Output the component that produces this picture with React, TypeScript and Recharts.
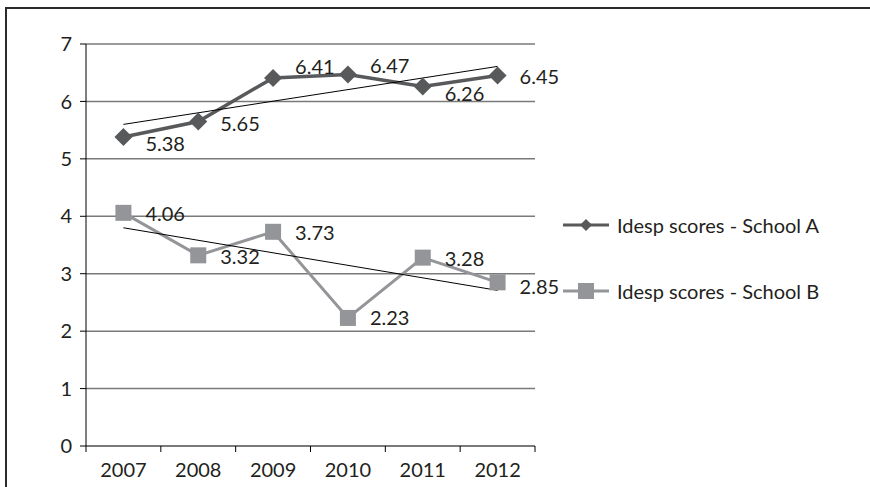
import { LineChart, Line, XAxis, YAxis, CartesianGrid, LabelList } from 'recharts';

const years = ['2007', '2008', '2009', '2010', '2011', '2012'];
const schoolA = [5.38, 5.65, 6.41, 6.47, 6.26, 6.45];
const schoolB = [4.06, 3.32, 3.73, 2.23, 3.28, 2.85];
// linear trendlines, end points
const trendA = [5.6, null, null, null, null, 6.61];
const trendB = [3.8, null, null, null, null, 2.71];
const yTicks = [0, 1, 2, 3, 4, 5, 6, 7];
const seriesNames = ['Idesp scores - School A', 'Idesp scores - School B'];

const data = years.map((year, i) => ({
  year,
  a: schoolA[i],
  b: schoolB[i],
  ta: trendA[i],
  tb: trendB[i],
}));

const W = 870;
const H = 487;
const MARGIN = { top: 44, right: 335, bottom: 11, left: 46 };
const Y_AXIS_W = 40;
const PLOT_W = W - MARGIN.left - Y_AXIS_W - MARGIN.right;
const BAND = PLOT_W / years.length;
const FONT = 'Lato, "Open Sans", sans-serif';
const TEXT = '#231f20';
const COLOR_A = '#58595b';
const COLOR_B = '#939598';

// label nudges so they sit like the original
const offsetA = [7, 2, -11, -8, 8, 1];
const offsetB = [1, 2, 1, 0, 1, 5];

const Diamond = (props: any) => {
  const { cx, cy, index } = props;
  if (cx == null || cy == null) return <g key={`d-${index}`} />;
  const r = 9;
  return (
    <path
      key={`d-${index}`}
      d={`M${cx},${cy - r}L${cx + r},${cy}L${cx},${cy + r}L${cx - r},${cy}Z`}
      fill={COLOR_A}
    />
  );
};

const Square = (props: any) => {
  const { cx, cy, index } = props;
  if (cx == null || cy == null) return <g key={`s-${index}`} />;
  const s = 8;
  return <rect key={`s-${index}`} x={cx - s} y={cy - s} width={s * 2} height={s * 2} fill={COLOR_B} />;
};

const makeLabel = (offsets: number[]) => (props: any) => {
  const { x, y, value, index } = props;
  return (
    <text
      x={x + 22}
      y={y + offsets[index]}
      dy="0.35em"
      textAnchor="start"
      fontSize={20}
      fontFamily={FONT}
      fill={TEXT}
    >
      {Number(value).toFixed(2)}
    </text>
  );
};

// ticks sit between categories, like the original
const XTick = (props: any) => {
  const { x, y, payload, index } = props;
  const axisY = y - 8; // recharts hands us y past tickSize + tickMargin
  return (
    <g>
      <line x1={x - BAND / 2} x2={x - BAND / 2} y1={axisY} y2={axisY + 6} stroke="#000" strokeWidth={1} />
      {index === years.length - 1 && (
        <line x1={x + BAND / 2} x2={x + BAND / 2} y1={axisY} y2={axisY + 6} stroke="#000" strokeWidth={1} />
      )}
      <text x={x} y={axisY + 24} dy="0.35em" textAnchor="middle" fontSize={20} fontFamily={FONT} fill={TEXT}>
        {payload.value}
      </text>
    </g>
  );
};

function ChartLegend() {
  return (
    <div style={{ position: 'absolute', left: 562, top: 210, width: 300 }}>
      {seriesNames.map((name, i) => (
        <div
          key={name}
          style={{ display: 'flex', alignItems: 'center', height: 30, marginBottom: i === 0 ? 36 : 0 }}
        >
          <svg width={48} height={20} style={{ display: 'block' }}>
            <line x1={1} x2={47} y1={10} y2={10} stroke={i === 0 ? COLOR_A : COLOR_B} strokeWidth={3} />
            {i === 0 ? (
              <path d="M24,4L30,10L24,16L18,10Z" fill={COLOR_A} />
            ) : (
              <rect x={16} y={2} width={16} height={16} fill={COLOR_B} />
            )}
          </svg>
          <span style={{ marginLeft: 7, fontSize: 20, color: TEXT, fontFamily: FONT, whiteSpace: 'nowrap' }}>
            {name}
          </span>
        </div>
      ))}
    </div>
  );
}

export default function App() {
  return (
    <div style={{ position: 'absolute', left: 0, top: 0, width: W, height: H, background: '#fff', fontFamily: FONT, overflow: 'hidden' }}>
      <div
        style={{
          position: 'absolute',
          left: 5,
          top: 7,
          width: 900,
          height: 520,
          borderLeft: '2px solid #2b2b2b',
          borderTop: '2px solid #2b2b2b',
        }}
      />
      <div style={{ position: 'absolute', left: 0, top: 0 }}>
        <LineChart width={W} height={H} data={data} margin={MARGIN}>
          <CartesianGrid vertical={false} stroke="#7a7a7a" strokeWidth={1.5} />
          <XAxis
            dataKey="year"
            height={30}
            padding={{ left: BAND / 2, right: BAND / 2 }}
            axisLine={{ stroke: '#7a7a7a', strokeWidth: 2 }}
            tickLine={false}
            tick={<XTick />}
            interval={0}
          />
          <YAxis
            width={Y_AXIS_W}
            domain={[0, 7]}
            ticks={yTicks}
            interval={0}
            axisLine={{ stroke: '#000', strokeWidth: 1 }}
            tickLine={{ stroke: '#000', strokeWidth: 1 }}
            tickSize={6}
            tickMargin={8}
            tick={{ fontSize: 20, fontFamily: FONT, fill: TEXT }}
          />
          <Line
            dataKey="a"
            name={seriesNames[0]}
            stroke={COLOR_A}
            strokeWidth={3.5}
            dot={Diamond}
            activeDot={false}
            isAnimationActive={false}
          >
            <LabelList dataKey="a" content={makeLabel(offsetA)} />
          </Line>
          <Line
            dataKey="b"
            name={seriesNames[1]}
            stroke={COLOR_B}
            strokeWidth={3}
            dot={Square}
            activeDot={false}
            isAnimationActive={false}
          >
            <LabelList dataKey="b" content={makeLabel(offsetB)} />
          </Line>
          <Line dataKey="ta" stroke="#000" strokeWidth={1} dot={false} connectNulls legendType="none" isAnimationActive={false} />
          <Line dataKey="tb" stroke="#000" strokeWidth={1} dot={false} connectNulls legendType="none" isAnimationActive={false} />
        </LineChart>
      </div>
      <ChartLegend />
    </div>
  );
}
